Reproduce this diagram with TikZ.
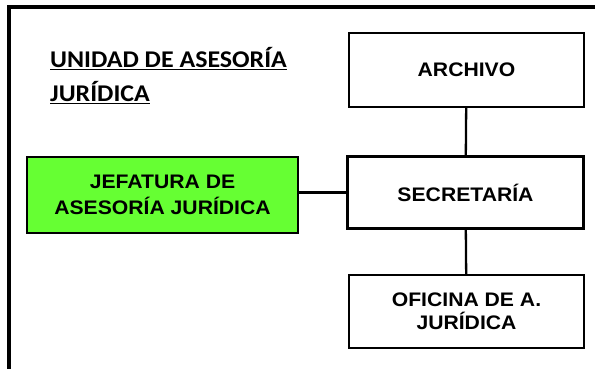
\documentclass[tikz,border=0pt]{standalone}
\usepackage{fontspec}
\newfontfamily\boxfont{Liberation Sans}[FakeStretch=1.08]
\newfontfamily\titlefont{Carlito}[FakeStretch=1.08]
\definecolor{jefegreen}{RGB}{102,255,51}
\tikzset{
  unitbox/.style={draw,line width=2.3pt,inner sep=0pt,align=center,
    font=\boxfont\bfseries\fontsize{19.6}{23}\selectfont},
  link/.style={line width=2.3pt}
}
\begin{document}
\begin{tikzpicture}[x=1pt,y=-1pt]
\useasboundingbox (0,0) rectangle (595,369);
%frame
\draw[line width=3.5pt] (9,369) -- (9,7) -- (595,7);
%title
\node[anchor=west,inner sep=0pt,align=left,font=\titlefont\bfseries\fontsize{24}{34}\selectfont] (titulo) at (50,76)
  {\underline{UNIDAD DE ASESORÍA}\\\underline{JURÍDICA}};
%units
\node[unitbox,minimum width=235pt,minimum height=74pt] (archivo) at (466.5,70) {ARCHIVO};
\node[unitbox,minimum width=236pt,minimum height=72pt] (secretaria) at (465.5,192.5) {SECRETARÍA};
\node[unitbox,minimum width=235pt,minimum height=73pt] (oficina) at (466.5,311.5) {OFICINA DE A.\\JURÍDICA};
\node[unitbox,fill=jefegreen,minimum width=271pt,minimum height=76pt,
  font=\boxfont\bfseries\fontsize{19.6}{26}\selectfont] (jefatura) at (162.5,195) {JEFATURA DE\\ASESORÍA JURÍDICA};
%links
\draw[link] (archivo) -- (secretaria);
\draw[link] (secretaria) -- (oficina);
\draw[link] (jefatura.east |- secretaria.west) -- (secretaria.west);
\end{tikzpicture}
\end{document}
